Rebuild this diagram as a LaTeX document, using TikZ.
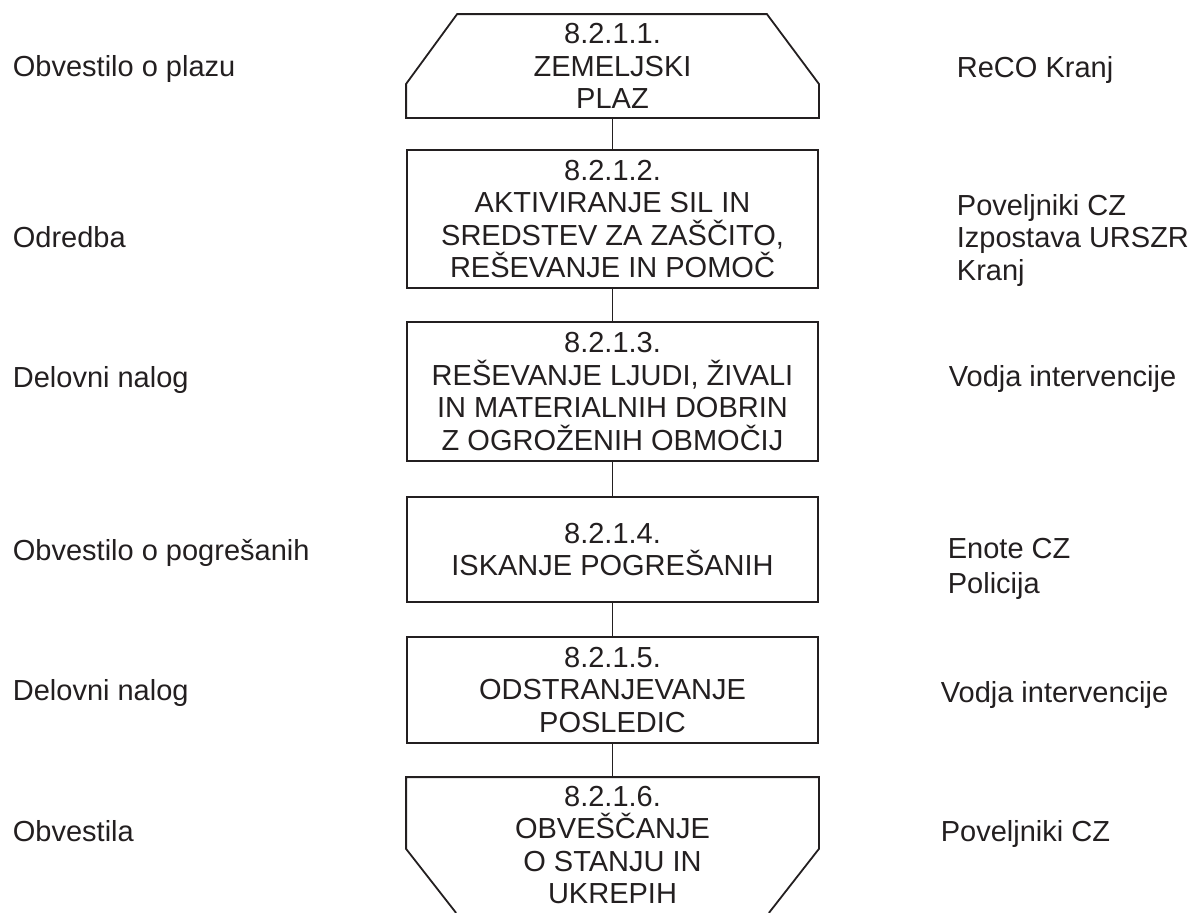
\documentclass[tikz,border=0pt]{standalone}
\usepackage{fontspec}
\setmainfont{Liberation Sans}
\definecolor{ink}{HTML}{231F20}
\begin{document}
\begin{tikzpicture}[
 x=0.5pt,y=-0.5pt,
 line width=0.9pt,
 every node/.style={font=\fontsize{14.5}{16.25}\selectfont,text=ink},
 step box/.style={draw=ink,rectangle,minimum width=205.5pt,inner sep=0pt,align=center},
 end box/.style={rectangle,minimum width=205.5pt,inner sep=0pt,align=center},
 side txt/.style={anchor=base west,inner sep=0pt,align=left}
]
\useasboundingbox (0,0) rectangle (1190,912);
% middle column
\node[end box,minimum height=51pt] (s1) at (612.5,66) {8.2.1.1.\\ZEMELJSKI\\PLAZ};
\draw[ink] ([shift={(51,0)}]s1.north west) -- ([shift={(-52,0)}]s1.north east)
 -- ([shift={(0,-34)}]s1.south east) -- (s1.south east) -- (s1.south west)
 -- ([shift={(0,-34)}]s1.south west) -- cycle;
\node[step box,minimum height=69pt] (s2) at (612.5,219) {8.2.1.2.\\AKTIVIRANJE SIL IN\\SREDSTEV ZA ZAŠČITO,\\REŠEVANJE IN POMOČ};
\node[step box,minimum height=69.5pt] (s3) at (612.5,391.5) {8.2.1.3.\\REŠEVANJE LJUDI, ŽIVALI\\IN MATERIALNIH DOBRIN\\Z OGROŽENIH OBMOČIJ};
\node[step box,minimum height=52.5pt] (s4) at (612.5,549.5) {8.2.1.4.\\ISKANJE POGREŠANIH};
\node[step box,minimum height=53pt] (s5) at (612.5,690) {8.2.1.5.\\ODSTRANJEVANJE\\POSLEDIC};
\node[end box,minimum height=67pt] (s6) at (612.5,845) {8.2.1.6.\\OBVEŠČANJE\\O STANJU IN\\UKREPIH};
\draw[ink] ([shift={(50,0)}]s6.south west) -- ([shift={(0,-64)}]s6.south west)
 -- (s6.north west) -- (s6.north east)
 -- ([shift={(0,-64)}]s6.south east) -- ([shift={(-50,0)}]s6.south east);
\foreach \a/\b in {s1/s2,s2/s3,s3/s4,s4/s5,s5/s6}
 \draw[ink] (\a.south) -- (\b.north);
% left column
\node[side txt] (l1) at (12,76) {Obvestilo o plazu};
\node[side txt] (l2) at (12,247) {Odredba};
\node[side txt] (l3) at (12,387) {Delovni nalog};
\node[side txt] (l4) at (12,560) {Obvestilo o pogrešanih};
\node[side txt] (l5) at (12,700) {Delovni nalog};
\node[side txt] (l6) at (12,841) {Obvestila};
% right column
\node[side txt] (r1) at (956,77) {ReCO Kranj};
\node[side txt] (r2) at (956,280) {Poveljniki CZ\\Izpostava URSZR\\Kranj};
\node[side txt] (r3) at (948,386) {Vodja intervencije};
\node[side txt] (r4) at (947,593) {Enote CZ\\[1pt]Policija};
\node[side txt] (r5) at (940,702) {Vodja intervencije};
\node[side txt] (r6) at (940,841) {Poveljniki CZ};
\end{tikzpicture}
\end{document}
